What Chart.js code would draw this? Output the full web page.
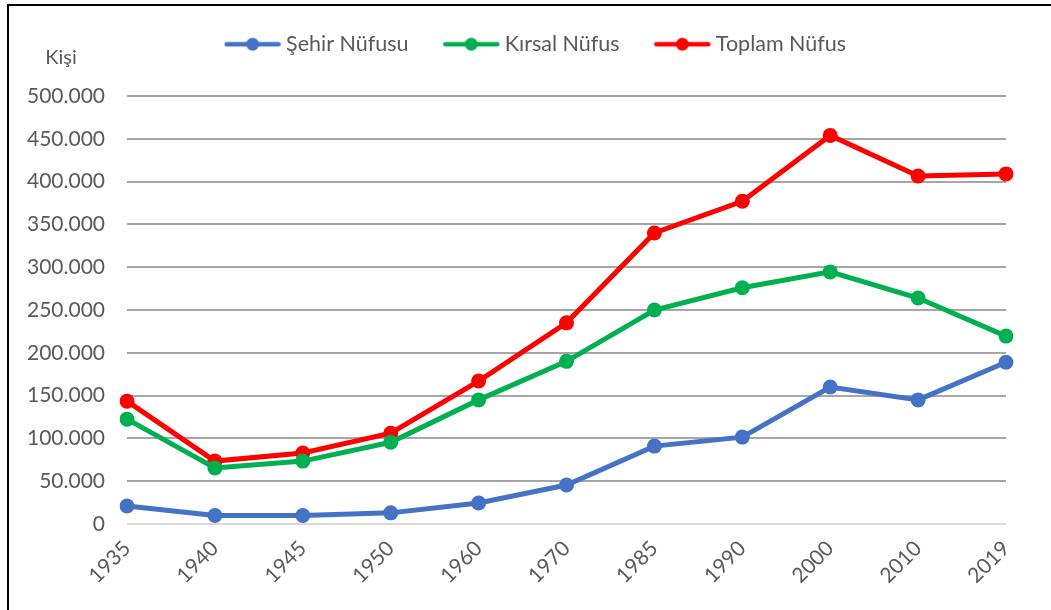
<!DOCTYPE html>
<html lang="tr">
<head>
<meta charset="utf-8">
<title>Nüfus</title>
<script src="https://cdn.jsdelivr.net/npm/chart.js@4.4.1/dist/chart.umd.min.js"></script>
<style>
  html, body { margin: 0; padding: 0; background: #fff; }
  #wrap { position: relative; width: 1051px; height: 610px; overflow: hidden; }
  #frame { position: absolute; left: 7px; top: 4px; right: -10px; bottom: -10px;
           border-top: 2px solid #000; border-left: 2px solid #000; pointer-events: none; }
  canvas { display: block; }
</style>
</head>
<body>
<div id="wrap">
  <canvas id="nufusChart" width="1051" height="610"></canvas>
  <div id="frame"></div>
</div>
<script>
// Data
const years = ['1935', '1940', '1945', '1950', '1960', '1970', '1985', '1990', '2000', '2010', '2019'];
const sehirNufusu = [21000, 10000, 10000, 13000, 24500, 45500, 91000, 101500, 160000, 145000, 189000];
const kirsalNufus = [122500, 65500, 73500, 95500, 145000, 190000, 250000, 276000, 294500, 264000, 219500];
const toplamNufus = [143500, 73500, 83000, 106000, 167000, 235000, 340000, 377000, 454000, 406500, 409000];
const seriesNames = ['Şehir Nüfusu', 'Kırsal Nüfus', 'Toplam Nüfus'];
const seriesColors = ['#4472C4', '#00B050', '#FF0000'];

const FONT = 'Lato, "Liberation Sans", sans-serif';
const TEXT_COLOR = '#595959';

// Turkish thousands separator: 500000 -> 500.000
function formatTr(v) {
    return String(v).replace(/\B(?=(\d{3})+(?!\d))/g, '.');
}

// Legend marker: short line with a dot in the middle (Excel style).
// The canvas is wider than the mark so the mark sits close to its text.
function makeLegendMarker(color) {
    const c = document.createElement('canvas');
    c.width = 88;
    c.height = 16;
    const g = c.getContext('2d');
    g.strokeStyle = color;
    g.lineWidth = 4.5;
    g.lineCap = 'round';
    g.beginPath();
    g.moveTo(33, 8);
    g.lineTo(85, 8);
    g.stroke();
    g.fillStyle = color;
    g.beginPath();
    g.arc(59, 8, 6.5, 0, Math.PI * 2);
    g.fill();
    return c;
}
const legendMarkers = seriesColors.map(makeLegendMarker);

// extra room under the legend, legend nudged right, "Kişi" label above the y axis
const legendSpace = {
    id: 'legendSpace',
    beforeLayout(chart) {
        const lg = chart.legend;
        if (lg && !lg._extraSpace) {
            const origFit = lg.fit;
            lg.fit = function() {
                origFit.call(this);
                this.height += 31;
            };
            lg._extraSpace = true;
        }
    },
    afterLayout(chart) {
        if (chart.legend) {
            chart.legend.left += 16;
            chart.legend.right += 16;
        }
    },
    afterDraw(chart) {
        const ctx = chart.ctx;
        ctx.save();
        ctx.font = '20px ' + FONT;
        ctx.fillStyle = TEXT_COLOR;
        ctx.textAlign = 'center';
        ctx.textBaseline = 'middle';
        ctx.fillText('Kişi', 61, 58);
        ctx.restore();
    }
};

const allSeries = [sehirNufusu, kirsalNufus, toplamNufus];
const datasets = allSeries.map((values, i) => ({
    label: seriesNames[i],
    data: values,
    borderColor: seriesColors[i],
    backgroundColor: seriesColors[i],
    borderWidth: 5,
    pointRadius: 7.5,
    pointHoverRadius: 7.5,
    pointBorderWidth: 0,
    tension: 0
}));

const ctx = document.getElementById('nufusChart').getContext('2d');
const nufusChart = new Chart(ctx, {
    type: 'line',
    data: { labels: years, datasets: datasets },
    options: {
        responsive: false,
        animation: false,
        layout: { padding: { top: 23.5, right: 45, bottom: 0, left: 8 } },
        plugins: {
            legend: {
                position: 'top',
                labels: {
                    usePointStyle: true,
                    pointStyleWidth: 75.5,
                    padding: 10,
                    color: TEXT_COLOR,
                    font: { family: FONT, size: 21.5 },
                    generateLabels: function(chart) {
                        const items = Chart.defaults.plugins.legend.labels.generateLabels(chart);
                        items.forEach((item, i) => { item.pointStyle = legendMarkers[i]; });
                        return items;
                    }
                }
            },
            tooltip: { enabled: false }
        },
        scales: {
            x: {
                offset: false,
                grid: { display: false },
                border: { display: false },
                ticks: {
                    color: TEXT_COLOR,
                    font: { family: FONT, size: 21 },
                    minRotation: 45,
                    maxRotation: 45,
                    padding: 4
                },
                afterFit: function(scale) { scale.height = 86; }
            },
            y: {
                min: 0,
                max: 500000,
                grid: {
                    drawTicks: false,
                    lineWidth: 2,
                    color: function(c) { return c.tick && c.tick.value === 0 ? '#D9D9D9' : '#A6A6A6'; }
                },
                border: { display: false },
                ticks: {
                    stepSize: 50000,
                    color: TEXT_COLOR,
                    padding: 22,
                    font: { family: FONT, size: 21 },
                    callback: function(value) { return formatTr(value); }
                },
                afterFit: function(scale) { scale.width = 119; }
            }
        }
    },
    plugins: [legendSpace]
});
</script>
</body>
</html>
